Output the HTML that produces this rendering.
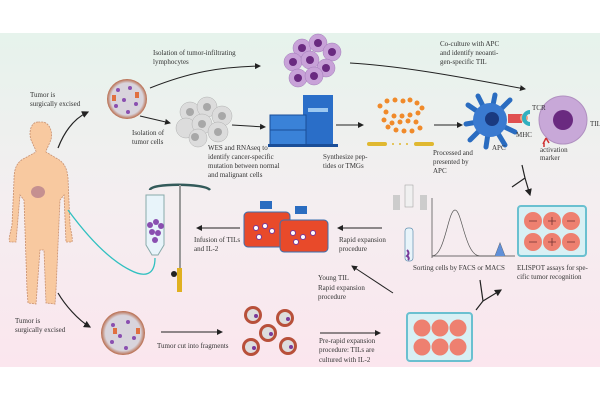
<!DOCTYPE html>
<html><head><meta charset="utf-8"><style>
html,body{margin:0;padding:0;background:#fff;}
svg{display:block;}
text{font-family:"Liberation Serif",serif;font-size:7px;fill:#333;}
</style></head><body>
<svg width="600" height="400" viewBox="0 0 600 400" xmlns="http://www.w3.org/2000/svg">
<defs>
<linearGradient id="bg" x1="0" y1="0" x2="0" y2="1">
<stop offset="0" stop-color="#e6f3ec"/><stop offset="0.5" stop-color="#f4eef0"/><stop offset="1" stop-color="#fbe6ee"/>
</linearGradient>
<marker id="ar" markerWidth="6" markerHeight="6" refX="5" refY="3" orient="auto"><path d="M0,0 L6,3 L0,6z" fill="#222"/></marker>
<radialGradient id="tum"><stop offset="0.8" stop-color="#d8d4dc"/><stop offset="1" stop-color="#b86a4a"/></radialGradient>
</defs>
<rect x="0" y="33" width="600" height="334" fill="url(#bg)"/>

<!-- human -->
<path d="M38,122 C30,122 28,135 32,142 C34,147 36,150 36,152 L25,158 C16,162 14,170 14,180 L12,225 C10,235 8,240 10,242 L16,242 L20,195 L24,200 L27,290 L28,303 L36,304 L40,250 L44,250 L46,303 L55,304 L56,290 L60,200 L64,195 L66,242 L72,242 C73,238 71,232 70,225 L68,178 C67,168 64,162 56,158 L46,152 C46,150 48,147 50,142 C54,134 50,122 42,122Z" fill="#f8c9a0" stroke="#c89070" stroke-width="0.8" stroke-dasharray="2,1"/>
<ellipse cx="38" cy="192" rx="7" ry="6" fill="#c59090"/>

<!-- arrows -->
<path d="M58,148 C65,130 75,118 88,112" fill="none" stroke="#222" stroke-width="1.2" marker-end="url(#ar)"/>
<path d="M58,293 C65,305 78,320 90,327" fill="none" stroke="#222" stroke-width="1.2" marker-end="url(#ar)"/>
<path d="M150,88 C190,72 220,67 260,66" fill="none" stroke="#222" stroke-width="1" marker-end="url(#ar)"/>
<path d="M140,116 L170,123" fill="none" stroke="#222" stroke-width="1" marker-end="url(#ar)"/>
<path d="M232,125 L265,127" fill="none" stroke="#222" stroke-width="1" marker-end="url(#ar)"/>
<path d="M336,125 L363,125" fill="none" stroke="#222" stroke-width="1" marker-end="url(#ar)"/>
<path d="M434,125 L462,125" fill="none" stroke="#222" stroke-width="1" marker-end="url(#ar)"/>
<path d="M350,63 C400,66 450,75 525,89" fill="none" stroke="#222" stroke-width="1" marker-end="url(#ar)"/>
<path d="M522,165 L525,178 L512,187 M525,178 L530,195" fill="none" stroke="#222" stroke-width="1.2" marker-end="url(#ar)"/>
<path d="M240,228 L197,228" fill="none" stroke="#222" stroke-width="1" marker-end="url(#ar)"/>
<path d="M382,228 L338,228" fill="none" stroke="#222" stroke-width="1" marker-end="url(#ar)"/>
<path d="M393,293 L352,266" fill="none" stroke="#222" stroke-width="1" marker-end="url(#ar)"/>
<path d="M161,332 L222,332" fill="none" stroke="#222" stroke-width="1" marker-end="url(#ar)"/>
<path d="M320,333 L380,333" fill="none" stroke="#222" stroke-width="1" marker-end="url(#ar)"/>
<path d="M476,310 L483,301 L480,280 M483,301 L501,290" fill="none" stroke="#222" stroke-width="1.2" marker-end="url(#ar)"/>

<!-- tumors -->
<circle cx="127" cy="99" r="20" fill="url(#tum)"/>
<circle cx="123" cy="333" r="22" fill="url(#tum)"/>
<g fill="#8a4fb0">
<circle cx="118" cy="90" r="2"/><circle cx="130" cy="88" r="2"/><circle cx="124" cy="100" r="2"/><circle cx="136" cy="104" r="2"/><circle cx="116" cy="106" r="2"/><circle cx="128" cy="112" r="2"/>
<circle cx="113" cy="325" r="2"/><circle cx="128" cy="322" r="2"/><circle cx="120" cy="336" r="2"/><circle cx="134" cy="338" r="2"/><circle cx="112" cy="342" r="2"/><circle cx="126" cy="348" r="2"/>
</g>
<g fill="#e07040"><rect x="112" y="95" width="4" height="6"/><rect x="135" y="92" width="4" height="6"/><rect x="113" y="328" width="4" height="6"/><rect x="136" y="328" width="4" height="6"/></g>

<!-- TIL cluster -->
<g fill="#c8a2d8" stroke="#a07ab8" stroke-width="0.5">
<circle cx="302" cy="48" r="9"/><circle cx="318" cy="43" r="9"/><circle cx="332" cy="52" r="9"/><circle cx="293" cy="62" r="9"/><circle cx="310" cy="60" r="9"/><circle cx="326" cy="68" r="9"/><circle cx="298" cy="78" r="9"/><circle cx="314" cy="76" r="9"/>
</g>
<g fill="#6a2a80"><circle cx="302" cy="48" r="4"/><circle cx="318" cy="43" r="4"/><circle cx="332" cy="52" r="4"/><circle cx="293" cy="62" r="4"/><circle cx="310" cy="60" r="4"/><circle cx="326" cy="68" r="4"/><circle cx="298" cy="78" r="4"/><circle cx="314" cy="76" r="4"/></g>

<!-- tumor cells gray -->
<g fill="#dcdcdc" stroke="#b0b0b0" stroke-width="0.5">
<circle cx="190" cy="112" r="10"/><circle cx="207" cy="107" r="10"/><circle cx="222" cy="116" r="10"/><circle cx="186" cy="128" r="10"/><circle cx="202" cy="124" r="10"/><circle cx="218" cy="132" r="10"/><circle cx="198" cy="138" r="9"/>
</g>
<g fill="#a8a8a8"><circle cx="190" cy="112" r="4"/><circle cx="207" cy="107" r="4"/><circle cx="222" cy="116" r="4"/><circle cx="202" cy="124" r="4"/><circle cx="218" cy="132" r="4"/><circle cx="195" cy="137" r="4"/></g>

<!-- sequencer -->
<rect x="303" y="95" width="30" height="50" fill="#2a6ec8"/>
<rect x="270" y="115" width="36" height="30" fill="#3a82d8" stroke="#1a4e98"/>
<line x1="270" y1="130" x2="306" y2="130" stroke="#1a4e98"/>
<rect x="308" y="108" width="20" height="4" fill="#9cc8f0"/>
<rect x="268" y="144" width="70" height="3" fill="#1a4e98"/>

<!-- peptides -->
<g fill="#f08a2a">
<circle cx="380" cy="106" r="2.5"/><circle cx="387" cy="101" r="2.5"/><circle cx="395" cy="100" r="2.5"/><circle cx="403" cy="101" r="2.5"/><circle cx="410" cy="100" r="2.5"/><circle cx="417" cy="103" r="2.5"/><circle cx="422" cy="108" r="2.5"/><circle cx="418" cy="113" r="2.5"/><circle cx="410" cy="115" r="2.5"/><circle cx="402" cy="116" r="2.5"/><circle cx="394" cy="116" r="2.5"/><circle cx="386" cy="112" r="2.5"/><circle cx="384" cy="120" r="2.5"/><circle cx="392" cy="123" r="2.5"/><circle cx="400" cy="122" r="2.5"/><circle cx="408" cy="121" r="2.5"/><circle cx="416" cy="122" r="2.5"/><circle cx="420" cy="128" r="2.5"/><circle cx="412" cy="131" r="2.5"/><circle cx="404" cy="131" r="2.5"/><circle cx="396" cy="130" r="2.5"/><circle cx="388" cy="127" r="2.5"/>
</g>
<g fill="#e0b830"><rect x="367" y="142" width="20" height="4" rx="2"/><rect x="414" y="142" width="20" height="4" rx="2"/><circle cx="393" cy="144" r="1"/><circle cx="400" cy="144" r="1"/><circle cx="407" cy="144" r="1"/></g>

<!-- APC -->
<g stroke="#2a6cc0" stroke-width="5" stroke-linecap="round">
<line x1="490" y1="120" x2="468" y2="105"/><line x1="490" y1="120" x2="478" y2="96"/><line x1="490" y1="120" x2="495" y2="95"/><line x1="490" y1="120" x2="510" y2="100"/><line x1="490" y1="120" x2="466" y2="124"/><line x1="490" y1="120" x2="470" y2="140"/><line x1="490" y1="120" x2="486" y2="147"/><line x1="490" y1="120" x2="505" y2="145"/><line x1="490" y1="120" x2="515" y2="132"/>
</g>
<circle cx="490" cy="120" r="17" fill="#3a7ad0"/>
<circle cx="492" cy="119" r="7" fill="#1a3a80"/>
<rect x="508" y="114" width="14" height="9" fill="#e05050"/>
<circle cx="524" cy="118" r="4" fill="#f0a080"/>
<path d="M530,112 a6,6 0 1,0 0,12" fill="none" stroke="#30b0c0" stroke-width="4"/>
<circle cx="563" cy="120" r="24" fill="#c8a8d8" stroke="#b090c0"/>
<circle cx="563" cy="120" r="10" fill="#6a2a80"/>
<path d="M546,138 l-3,6 M546,138 l3,5 M544,143 l0,4" stroke="#d03030" stroke-width="1.5"/>

<!-- ELISPOT -->
<rect x="518" y="206" width="68" height="50" rx="3" fill="#d8f0f4" stroke="#6ac0d0" stroke-width="2"/>
<g fill="#ee8070"><circle cx="533" cy="221" r="9"/><circle cx="552" cy="221" r="9"/><circle cx="571" cy="221" r="9"/><circle cx="533" cy="242" r="9"/><circle cx="552" cy="242" r="9"/><circle cx="571" cy="242" r="9"/></g>
<g stroke="#703030" stroke-width="0.8"><path d="M529,221h8M548,221h8M552,217v8M567,221h8M529,242h8M548,242h8M552,238v8M567,242h8"/></g>

<!-- sorting -->
<rect x="393" y="195" width="7" height="15" fill="#ccc"/><rect x="420" y="195" width="7" height="15" fill="#ccc"/>
<rect x="405" y="185" width="8" height="22" fill="#f0f0f0" stroke="#999" stroke-width="0.5"/>
<rect x="405" y="228" width="8" height="33" rx="3" fill="#e8f4fa" stroke="#6090b0" stroke-width="0.7"/>
<path d="M407,250 q3,3 0,6 q3,2 1,4" stroke="#7a3a9a" stroke-width="2" fill="none"/>
<path d="M432,258 L432,198 M432,256 L515,256" stroke="#444" stroke-width="0.7" fill="none"/>
<path d="M432,256 C445,256 448,210 455,210 C462,210 465,256 480,256 L495,256 L500,243 L505,256" stroke="#555" stroke-width="0.7" fill="none"/>
<path d="M495,256 L500,243 L505,256Z" fill="#6090d8"/>

<!-- flasks -->
<rect x="244" y="212" width="46" height="35" rx="4" fill="#e84a2a" stroke="#3a70b0"/>
<rect x="280" y="220" width="48" height="32" rx="4" fill="#e84a2a" stroke="#3a70b0"/>
<rect x="260" y="201" width="12" height="8" fill="#2a6cc0"/><rect x="295" y="206" width="12" height="8" fill="#2a6cc0"/>
<g fill="#fff" stroke="#7a3a9a"><circle cx="256" cy="228" r="2.5"/><circle cx="265" cy="226" r="2.5"/><circle cx="272" cy="231" r="2.5"/><circle cx="259" cy="237" r="2.5"/><circle cx="293" cy="233" r="2.5"/><circle cx="303" cy="237" r="2.5"/><circle cx="313" cy="233" r="2.5"/><circle cx="296" cy="242" r="2.5"/></g>

<!-- IV -->
<path d="M150,190 C150,183 205,183 210,190" fill="none" stroke="#335a5a" stroke-width="2.5"/>
<line x1="180" y1="185" x2="180" y2="290" stroke="#999" stroke-width="2"/>
<rect x="177" y="268" width="5" height="24" fill="#e0b020"/><circle cx="174" cy="274" r="3" fill="#222"/>
<path d="M146,195 L164,195 L164,245 L158,255 L152,255 L146,245Z" fill="#e8f4fa" stroke="#8aa"/>
<g fill="#8a4fb0"><circle cx="150" cy="225" r="3"/><circle cx="156" cy="222" r="3"/><circle cx="161" cy="226" r="3"/><circle cx="152" cy="232" r="3"/><circle cx="158" cy="233" r="3"/><circle cx="155" cy="240" r="3"/></g>
<path d="M155,258 C155,275 145,278 130,270 C110,260 90,240 68,210" fill="none" stroke="#30c0c0" stroke-width="1.3"/>

<!-- fragments -->
<g fill="#b8503a"><circle cx="253" cy="315" r="9"/><circle cx="285" cy="318" r="9"/><circle cx="268" cy="333" r="9"/><circle cx="251" cy="347" r="9"/><circle cx="288" cy="346" r="9"/></g>
<g fill="#ddd"><circle cx="253" cy="315" r="6"/><circle cx="285" cy="318" r="6"/><circle cx="268" cy="333" r="6"/><circle cx="251" cy="347" r="6"/><circle cx="288" cy="346" r="6"/></g>
<g fill="#7a3a9a"><circle cx="256" cy="316" r="2"/><circle cx="288" cy="319" r="2"/><circle cx="271" cy="334" r="2"/><circle cx="254" cy="348" r="2"/><circle cx="291" cy="347" r="2"/></g>

<!-- six-well -->
<rect x="407" y="313" width="65" height="48" rx="3" fill="#d8f0f4" stroke="#6ac0d0" stroke-width="2"/>
<g fill="#ee8070"><circle cx="422" cy="328" r="8.5"/><circle cx="440" cy="328" r="8.5"/><circle cx="458" cy="328" r="8.5"/><circle cx="422" cy="347" r="8.5"/><circle cx="440" cy="347" r="8.5"/><circle cx="458" cy="347" r="8.5"/></g>

<!-- labels -->
<text x="153" y="55">Isolation of tumor-infiltrating</text><text x="153" y="64">lymphocytes</text>
<text x="30" y="97">Tumor is</text><text x="30" y="106">surgically excised</text>
<text x="132" y="135">Isolation of</text><text x="132" y="144">tumor cells</text>
<text x="208" y="150">WES and RNAseq to</text><text x="208" y="159">identify cancer-specific</text><text x="208" y="168">mutation between normal</text><text x="208" y="177">and malignant cells</text>
<text x="440" y="46">Co-culture with APC</text><text x="440" y="55">and identify neoanti-</text><text x="440" y="64">gen-specific TIL</text>
<text x="323" y="159">Synthesize pep-</text><text x="323" y="168">tides or TMGs</text>
<text x="433" y="155">Processed and</text><text x="433" y="164">presented by</text><text x="433" y="173">APC</text>
<text x="532" y="110">TCR</text><text x="516" y="137">MHC</text><text x="492" y="150">APC</text><text x="590" y="126">TIL</text>
<text x="540" y="152" font-size="6">activation</text><text x="540" y="160" font-size="6">marker</text>
<text x="194" y="242">Infusion of TILs</text><text x="194" y="251">and IL-2</text>
<text x="339" y="242">Rapid expansion</text><text x="339" y="251">procedure</text>
<text x="318" y="280">Young TIL</text><text x="318" y="290">Rapid expansion</text><text x="318" y="299">procedure</text>
<text x="413" y="270">Sorting cells by FACS or MACS</text>
<text x="517" y="270">ELISPOT assays for spe-</text><text x="517" y="279">cific tumor recognition</text>
<text x="15" y="323">Tumor is</text><text x="15" y="332">surgically excised</text>
<text x="157" y="348">Tumor cut into fragments</text>
<text x="319" y="343">Pre-rapid expansion</text><text x="319" y="352">procedure: TILs are</text><text x="319" y="362">cultured with IL-2</text>
</svg>
</body></html>
